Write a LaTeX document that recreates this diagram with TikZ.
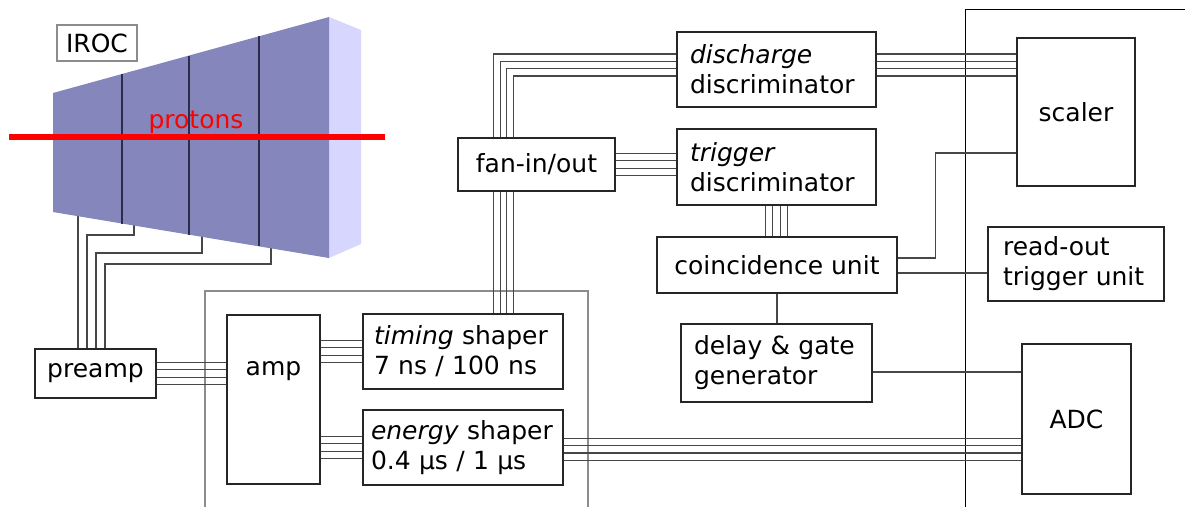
\documentclass[tikz,border=0pt]{standalone}
\usepackage{fontspec}
\setmainfont{DejaVu Sans}
\usetikzlibrary{shapes,arrows,positioning}

\definecolor{padfront}{RGB}{133,134,188}
\definecolor{padside}{RGB}{214,214,255}
\definecolor{padline}{RGB}{45,45,75}

\begin{document}
\begin{tikzpicture}[x=1pt, y=-1pt,
        font=\fontsize{25}{30}\selectfont,
        block/.style={rectangle, draw=black!85, line width=1.3pt, inner sep=0pt, text centered},
        textblock/.style={block, align=left},
        wire/.style={draw=black!72, line width=1.3pt}]

    \useasboundingbox (0,0) rectangle (1185,506);

    % readout wires of the pads, hidden under the chamber
    \coordinate (pad1) at (78,214);
    \coordinate (pad2) at (134,224);
    \coordinate (pad3) at (202,235);
    \coordinate (pad4) at (271,246);

    \node[block, minimum width=121, minimum height=49] (preamp) at (95.5,373.5) {preamp};

    \draw[wire] (pad1) -- ([xshift=-17.5pt]preamp.north);
    \draw[wire] (pad2) |- (87,235) -- ([xshift=-8.5pt]preamp.north);
    \draw[wire] (pad3) |- (96,253) -- ([xshift=0.5pt]preamp.north);
    \draw[wire] (pad4) |- (105,264) -- ([xshift=9.5pt]preamp.north);

    % chamber
    \fill[padside] (329,17) -- (361,30) -- (361,244) -- (329,258) -- cycle;
    \fill[padfront] (53,93) -- (329,17) -- (329,258) -- (53,212) -- cycle;
    \foreach \x/\t/\b in {122/74/223.5, 189/55.6/234.7, 259/36.3/246.3}
        \draw[padline, line width=1.3pt] (\x,\t) -- (\x,\b);
    \draw[red, line width=6pt] (9,137) -- (385,137);
    \node[red] (beam) at (196,122) {protons};
    \node[block, draw=black!45, minimum width=80, minimum height=36] (iroc) at (97,43) {IROC};

    % frame around the shaping amplifier and the crate boundary
    \draw[black!45, line width=1.5pt] (205,510) |- (588,291) -- (588,510);
    \draw[black, line width=1pt] (965,510) |- (1190,9);

    \node[block, minimum width=93, minimum height=169,
        label={[anchor=north, inner sep=0pt, yshift=-47pt]north:amp}] (amp) at (273.5,399.5) {};
    \node[textblock, inner xsep=11pt, text width=178, minimum width=200, minimum height=75] (timing) at (463,351.5)
        {\textit{timing} shaper\\7 ns / 100 ns};
    \node[textblock, inner xsep=8pt, text width=184, minimum width=200, minimum height=75] (energy) at (463,447.5)
        {\textit{energy} shaper\\0.4 µs / 1 µs};

    \node[block, minimum width=157, minimum height=53] (fan) at (536.5,164.5) {fan-in/out};
    \node[textblock, inner xsep=13pt, text width=173, minimum width=199, minimum height=75] (discharge) at (776.5,69.5)
        {\textit{discharge}\\discriminator};
    \node[textblock, inner xsep=13pt, text width=173, minimum width=199, minimum height=76] (trigger) at (776.5,167)
        {\textit{trigger}\\discriminator};
    \node[block, minimum width=240, minimum height=56] (coinc) at (777,265) {coincidence unit};
    \node[textblock, inner xsep=13pt, text width=165, minimum width=191, minimum height=78] (delay) at (776.5,363)
        {delay \& gate\\generator};

    \node[block, minimum width=118, minimum height=148] (scaler) at (1076,112) {scaler};
    \node[textblock, inner xsep=15pt, text width=146, minimum width=176, minimum height=74] (readout) at (1076,264)
        {read-out\\trigger unit};
    \node[block, minimum width=109, minimum height=150] (adc) at (1076.5,419) {ADC};

    % signal bundles
    \foreach \o in {11,3.7,-3.7,-11} {
        \draw[wire] ([yshift=\o pt]preamp.east) -- ([yshift=\o pt]preamp.east -| amp.west);
        \draw[wire] ([yshift=\o pt]timing.west -| amp.east) -- ([yshift=\o pt]timing.west);
        \draw[wire] ([yshift=\o pt]energy.west -| amp.east) -- ([yshift=\o pt]energy.west);
        \draw[wire] ([yshift=\o pt]fan.east) -- ([yshift=\o pt]fan.east -| trigger.west);
        \draw[wire] ([xshift=-\o pt]trigger.south) -- ([xshift=-\o pt]trigger.south |- coinc.north);
    }
    \foreach \o in {9,1.7,-5.6,-13}
        \draw[wire] ([yshift=\o pt]energy.east) -- ([yshift=\o pt]energy.east -| adc.west);
    \foreach \o in {-43,-36.3,-29.7,-23}
        \draw[wire] ([xshift=\o pt]fan.south) -- ([xshift=\o pt]fan.south |- timing.north);
    \foreach \o/\h in {-43/15.5, -36.3/8.2, -29.7/0.9, -23/-6.4} {
        \draw[wire] ([xshift=\o pt]fan.north) |- ([yshift=\h pt]discharge.west);
        \draw[wire] ([yshift=\h pt]discharge.east) -- ([yshift=\h pt]discharge.east -| scaler.west);
    }

    % single lines
    \draw[wire] (coinc.south) -- (coinc.south |- delay.north);
    \draw[wire] ([yshift=7pt]coinc.east) -- ++(38,0) |- ([yshift=-41pt]scaler.west);
    \draw[wire] ([yshift=-8pt]coinc.east) -- ([yshift=-8pt]coinc.east -| readout.west);
    \draw[wire] ([yshift=-9pt]delay.east) -- ([yshift=-9pt]delay.east -| adc.west);
\end{tikzpicture}
\end{document}
